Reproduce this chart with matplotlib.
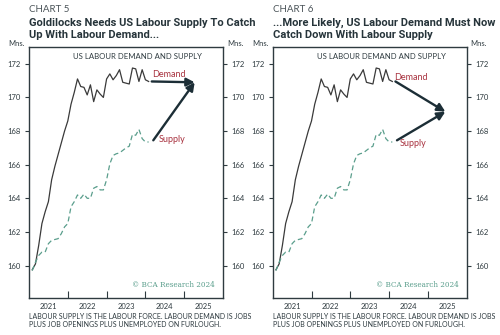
import matplotlib
matplotlib.use("Agg")
import matplotlib.pyplot as plt
import numpy as np

# monthly data, Feb 2021 .. Feb 2024 (millions)
start_year = 2021 + 1 / 12
demand = [159.75, 160.1, 161.2, 162.5, 163.2, 163.8, 165.1, 165.9, 166.6, 167.3, 168.0,
          168.6, 169.6, 170.3, 171.1, 170.65, 170.6, 170.15, 170.75, 169.75, 170.45, 170.2, 170.0,
          171.1, 171.4, 171.05, 171.3, 171.65, 170.9, 170.85, 170.8, 171.75, 171.7, 170.95, 171.65,
          171.05, 170.95]
supply = [159.7, 160.2, 160.6, 160.8, 160.8, 161.3, 161.5, 161.55, 161.6, 161.9, 162.3,
          162.5, 163.5, 163.8, 164.2, 164.0, 164.25, 164.0, 164.0, 164.6, 164.7, 164.5, 164.5,
          165.1, 166.05, 166.55, 166.65, 166.7, 166.85, 167.0, 167.1, 167.8, 167.75, 168.1, 167.55,
          167.35, 167.35]
months = start_year + np.arange(len(demand)) / 12

years = [2021, 2022, 2023, 2024, 2025]
yticks = [160, 162, 164, 166, 168, 170, 172]

chart_nums = ["CHART 5", "CHART 6"]
titles = ["Goldilocks Needs US Labour Supply To Catch\nUp With Labour Demand...",
          "...More Likely, US Labour Demand Must Now\nCatch Down With Labour Supply"]
# where the two arrows meet (year, millions)
targets = [(2025.27, 170.9), (2025.45, 169.15)]
demand_lbl = [(2024.6, 171.35), (2024.55, 171.2)]
supply_lbl = [(2024.7, 167.5), (2024.62, 167.27)]

dark = "#2f3b40"
teal = "#5a9e8c"
red = "#a8323f"
arrow_c = "#1c2e36"
font = "Lato"

fig = plt.figure(figsize=(5, 3.35), dpi=100)
fig.patch.set_facecolor("white")

lefts = [29 / 500, 272.7 / 500]
for k in range(2):
    ax = fig.add_axes([lefts[k], 37 / 335, 194 / 500, 251 / 335])
    ax.plot(months, demand, color="#3a3a3a", lw=0.9)
    ax.plot(months, supply, color=teal, lw=0.9, ls=(0, (4, 2.5)))
    ax.set_xlim(2021, 2026)
    ax.set_ylim(158.07, 173.0)

    tx, ty = targets[k]
    ax.annotate("", xy=(tx, ty), xytext=(months[-1] + 0.08, demand[-1]),
                arrowprops=dict(arrowstyle="-|>", lw=1.7, color=arrow_c, mutation_scale=12,
                                shrinkA=0, shrinkB=0))
    ax.annotate("", xy=(tx, ty), xytext=(months[-1] + 0.12, supply[-1] + 0.1),
                arrowprops=dict(arrowstyle="-|>", lw=1.7, color=arrow_c, mutation_scale=12,
                                shrinkA=0, shrinkB=0))
    ax.text(*demand_lbl[k], "Demand", color=red, fontsize=6.5, family=font,
            ha="center", va="center")
    ax.text(*supply_lbl[k], "Supply", color=red, fontsize=6.5, family=font,
            ha="center", va="center")

    ax.text(0.56, 0.975, "US LABOUR DEMAND AND SUPPLY", transform=ax.transAxes,
            ha="center", va="top", fontsize=5.6, color=dark, family=font)
    ax.text(0.96, 0.035, "© BCA Research 2024", transform=ax.transAxes,
            ha="right", va="bottom", fontsize=5.2, color=teal, family="DejaVu Serif")

    # x axis: ticks at year boundaries, labels at mid-year
    ax.set_xticks(years[1:])
    ax.set_xticklabels([])
    ax.tick_params(axis="x", which="major", direction="in", length=5, color=dark, width=0.8)
    ax.set_xticks([y + 0.5 for y in years], minor=True)
    ax.set_xticklabels([str(y) for y in years], minor=True)
    ax.tick_params(axis="x", which="minor", length=0, pad=3.5, labelsize=5.5,
                   labelcolor=dark)

    ax.set_yticks(yticks)
    ax.tick_params(axis="y", which="major", direction="out", length=3, color=dark, width=0.8,
                   labelsize=5.5, labelcolor=dark, left=True, right=True,
                   labelleft=True, labelright=True, pad=3)
    for lbl in ax.get_xticklabels(minor=True) + ax.get_yticklabels():
        lbl.set_family(font)
    for s in ax.spines.values():
        s.set_color(dark)
        s.set_linewidth(1.0)

    ax.text(-0.02, 1.0, "Mns.", transform=ax.transAxes, ha="right", va="bottom",
            fontsize=5.5, color=dark, family=font)
    ax.text(1.02, 1.0, "Mns.", transform=ax.transAxes, ha="left", va="bottom",
            fontsize=5.5, color=dark, family=font)

    x0 = lefts[k]
    fig.text(x0, 1 - 9 / 335, chart_nums[k], ha="left", va="center", fontsize=7,
             color="#4a5358", family=font)
    fig.text(x0, 1 - 29 / 335, titles[k], ha="left", va="center", fontsize=8,
             color="#26343a", family="Roboto", weight="bold", linespacing=1.2)
    fig.text(x0, 1 - 320.5 / 335,
             "LABOUR SUPPLY IS THE LABOUR FORCE. LABOUR DEMAND IS JOBS\n"
             "PLUS JOB OPENINGS PLUS UNEMPLOYED ON FURLOUGH.",
             ha="left", va="center", fontsize=5.0, color=dark, family=font,
             linespacing=1.3)

fig.savefig("out.png", dpi=100)
